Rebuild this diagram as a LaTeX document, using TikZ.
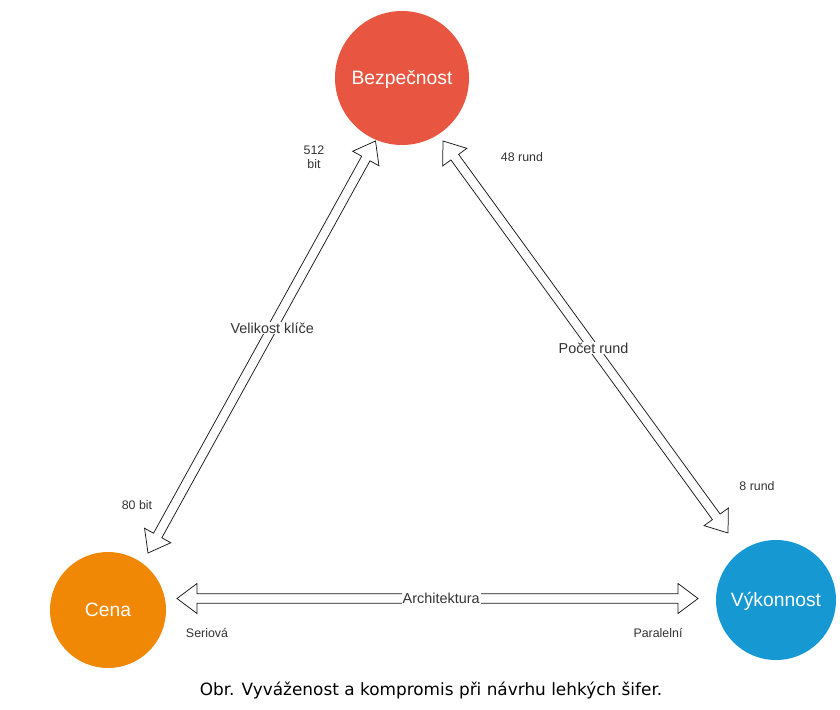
\documentclass[tikz,border=0pt]{standalone}
\usepackage{fontspec}
\setmainfont{Liberation Sans}
\newfontfamily\captionfont{DejaVu Sans}
\usetikzlibrary{calc}
\definecolor{bezred}{HTML}{E85642}
\definecolor{cenaorange}{HTML}{F08705}
\definecolor{vykblue}{HTML}{1699D3}
\definecolor{textgrey}{HTML}{333333}
% hollow double-headed arrow between two named points
\newcommand{\flexarrow}[2]{
  \coordinate (fa1) at ($(#1)!20pt!(#2)$);
  \coordinate (fa2) at ($(#2)!20pt!(#1)$);
  \draw[flexline] (#1) -- ($(fa1)!15pt!90:(#2)$) -- ($(fa1)!4.75pt!90:(#2)$)
    -- ($(fa2)!4.75pt!-90:(#1)$) -- ($(fa2)!15pt!-90:(#1)$) -- (#2)
    -- ($(fa2)!15pt!90:(#1)$) -- ($(fa2)!4.75pt!90:(#1)$)
    -- ($(fa1)!4.75pt!-90:(#2)$) -- ($(fa1)!15pt!-90:(#2)$) -- cycle;
}
\begin{document}
\begin{tikzpicture}[x=1pt,y=-1pt,
  goal/.style={circle,inner sep=0pt,text=white,text height=13.8pt,text depth=0pt,
    font=\fontsize{19.3}{22}\selectfont},
  flexline/.style={draw=black!90,fill=white,line width=0.75pt,line join=miter},
  midlbl/.style={fill=white,inner sep=1pt,text=textgrey,font=\fontsize{14.4}{16}\selectfont},
  endlbl/.style={inner sep=0pt,text=textgrey,align=center,font=\fontsize{12.4}{14}\selectfont}]
\useasboundingbox (0,0) rectangle (840,709);
\fill[white] (0,0) rectangle (840,709);

\node[goal,fill=bezred,minimum size=134pt] (bez) at (402,78) {Bezpečnost};
\node[goal,fill=cenaorange,minimum size=116pt] (cena) at (108,610) {Cena};
\node[goal,fill=vykblue,minimum size=120pt] (vyk) at (776,600) {Výkonnost};

% arrow tips
\coordinate (keyTop) at (375.5,141);
\coordinate (keyBot) at (148,553);
\coordinate (rndTop) at (443,141);
\coordinate (rndBot) at (728,533);
\coordinate (archL) at (177,598.5);
\coordinate (archR) at (698,598.5);

\flexarrow{keyBot}{keyTop}
\flexarrow{rndTop}{rndBot}
\flexarrow{archL}{archR}

\path (keyBot) -- (keyTop) node[midlbl,pos=0.546] (lblKey) {Velikost klíče};
\path (rndTop) -- (rndBot) node[midlbl,pos=0.528] (lblRnd) {Počet rund};
\path (archL) -- (archR) node[midlbl,pos=0.507] (lblArch) {Architektura};

\node[endlbl] (b512) at (314,157) {512\\bit};
\node[endlbl] (b80) at (137,505) {80 bit};
\node[endlbl] (r48) at (522,157) {48 rund};
\node[endlbl] (r8) at (757,486) {8 rund};
\node[endlbl] (ser) at (207,633) {Seriová};
\node[endlbl] (par) at (658,633) {Paralelní};

\node[inner sep=0pt,font=\captionfont\fontsize{16.9}{19}\selectfont] (capt) at (431,690)
  {Obr. Vyváženost a kompromis při návrhu lehkých šifer.};
\end{tikzpicture}
\end{document}
